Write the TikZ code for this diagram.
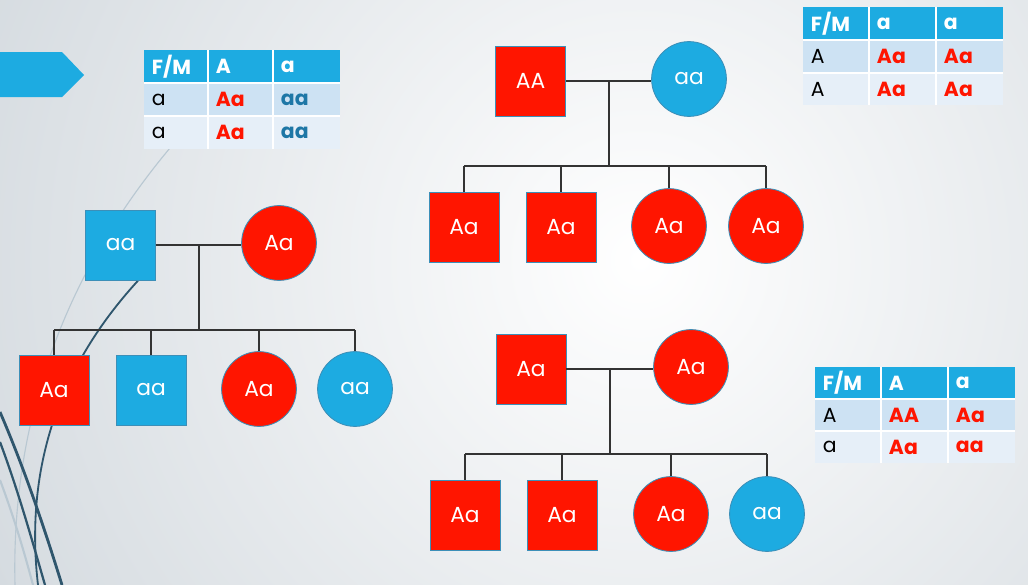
\documentclass[tikz,border=0pt]{standalone}
\usepackage{fontspec}
\setmainfont{Poppins}
\usepackage{xcolor}
\usetikzlibrary{positioning}

\definecolor{pedred}{HTML}{FF1500}
\definecolor{pedblue}{HTML}{1DABE1}
\definecolor{pededge}{HTML}{3C8FB8}
\definecolor{bggray}{HTML}{D5DBE0}
\definecolor{rowone}{HTML}{CDE2F3}
\definecolor{rowtwo}{HTML}{E6EFF8}
\definecolor{aablue}{HTML}{1E77A6}
\definecolor{swirl}{HTML}{2F566D}
\definecolor{swirllight}{HTML}{B9C8D2}

\begin{document}
\begin{tikzpicture}[x=0.025cm, y=-0.025cm,
    male/.style={draw=pededge, line width=0.6pt, minimum size=1.75cm, inner sep=0pt,
        text=white, font=\fontsize{15.5}{17}\selectfont},
    female/.style={male, circle, minimum size=1.87cm},
    link/.style={draw=black!80, line width=1.1pt},
    head/.style={anchor=west, text=white, font=\fontsize{14.5}{17}\selectfont\bfseries},
    cell/.style={anchor=west, font=\fontsize{14.5}{17}\selectfont},
    redcell/.style={cell, text=pedred, font=\fontsize{14.5}{17}\selectfont\bfseries},
    bluecell/.style={cell, text=aablue, font=\fontsize{14.5}{17}\selectfont\bfseries}]
\useasboundingbox (0,0) rectangle (1028,585);
% slide background
\begin{scope}
\clip (0,0) rectangle (1028,585);
\fill[bggray] (0,0) rectangle (1028,585);
\shade[inner color=white, outer color=bggray] (640,260) circle[radius=720];
% swirls
\draw[swirllight, line width=0.8pt] (190,125) .. controls (95,230) and (10,380) .. (15,585);
\draw[swirllight, line width=1.5pt] (0,480) .. controls (15,520) and (25,555) .. (33,585);
\draw[swirl, line width=1.3pt] (148,270) .. controls (90,330) and (20,430) .. (38,585);
\draw[swirl, line width=2pt] (0,412) .. controls (25,470) and (45,530) .. (62,585);
\draw[swirl, line width=1.6pt] (0,442) .. controls (18,490) and (32,540) .. (45,585);
\end{scope}
% arrow tab
\fill[pedblue] (0,52) -- (62,52) -- (84,75) -- (62,97) -- (0,97) -- cycle;

% left family
\node[male, fill=pedblue] (lf) at (120.5,245) {aa};
\node[female, fill=pedred] (lm) at (279,243) {Aa};
\node[male, fill=pedred] (lc1) at (54,390) {Aa};
\node[male, fill=pedblue] (lc2) at (151,390) {aa};
\node[female, fill=pedred] (lc3) at (259,389) {Aa};
\node[female, fill=pedblue] (lc4) at (355,389) {aa};
\coordinate (lj) at (199,245);
\coordinate (ls) at (199,330);
\draw[link] (lf.east) -- (lf.east -| lm.west)
    (lj) -- (ls)
    (lc1 |- ls) -- (lc4 |- ls)
    (lc1 |- ls) -- (lc1.north)
    (lc2 |- ls) -- (lc2.north)
    (lc3 |- ls) -- (lc3.north)
    (lc4 |- ls) -- (lc4.north);

% top right family
\node[male, fill=pedred] (tf) at (530.5,81) {AA};
\node[female, fill=pedblue] (tm) at (689,79) {aa};
\node[male, fill=pedred] (tc1) at (464,227) {Aa};
\node[male, fill=pedred] (tc2) at (561,227) {Aa};
\node[female, fill=pedred] (tc3) at (669,226) {Aa};
\node[female, fill=pedred] (tc4) at (766,226) {Aa};
\coordinate (tj) at (609,81);
\coordinate (ts) at (609,166);
\draw[link] (tf.east) -- (tf.east -| tm.west)
    (tj) -- (ts)
    (tc1 |- ts) -- (tc4 |- ts)
    (tc1 |- ts) -- (tc1.north)
    (tc2 |- ts) -- (tc2.north)
    (tc3 |- ts) -- (tc3.north)
    (tc4 |- ts) -- (tc4.north);

% bottom right family
\node[male, fill=pedred] (bf) at (531,369) {Aa};
\node[female, fill=pedred] (bm) at (691,367) {Aa};
\node[male, fill=pedred] (bc1) at (465,515) {Aa};
\node[male, fill=pedred] (bc2) at (562,515) {Aa};
\node[female, fill=pedred] (bc3) at (671,514) {Aa};
\node[female, fill=pedblue] (bc4) at (767,514) {aa};
\coordinate (bj) at (610,369);
\coordinate (bs) at (610,454);
\draw[link] (bf.east) -- (bf.east -| bm.west)
    (bj) -- (bs)
    (bc1 |- bs) -- (bc4 |- bs)
    (bc1 |- bs) -- (bc1.north)
    (bc2 |- bs) -- (bc2.north)
    (bc3 |- bs) -- (bc3.north)
    (bc4 |- bs) -- (bc4.north);

% punnett square, left
\fill[pedblue] (144,50) rectangle (340,83);
\fill[rowone] (144,83) rectangle (340,116);
\fill[rowtwo] (144,116) rectangle (340,149);
\draw[white, line width=1.4pt] (144,83) -- (340,83) (144,116) -- (340,116)
    (208,50) -- (208,149) (273,50) -- (273,149);
\node[head] (lh0) at (147,66.5) {F/M};
\node[head] (lh1) at (211,66.5) {A};
\node[head] (lh2) at (276,66.5) {a};
\node[cell] (lr10) at (147,99.5) {a};
\node[redcell] (lr11) at (211,99.5) {Aa};
\node[bluecell] (lr12) at (276,99.5) {aa};
\node[cell] (lr20) at (147,132.5) {a};
\node[redcell] (lr21) at (211,132.5) {Aa};
\node[bluecell] (lr22) at (276,132.5) {aa};

% punnett square, top right
\fill[pedblue] (803,7) rectangle (1003,40);
\fill[rowone] (803,40) rectangle (1003,73);
\fill[rowtwo] (803,73) rectangle (1003,105);
\draw[white, line width=1.4pt] (803,40) -- (1003,40) (803,73) -- (1003,73)
    (869,7) -- (869,105) (936,7) -- (936,105);
\node[head] (th0) at (806,23.5) {F/M};
\node[head] (th1) at (872,23.5) {a};
\node[head] (th2) at (939,23.5) {a};
\node[cell] (tr10) at (806,56.5) {A};
\node[redcell] (tr11) at (872,56.5) {Aa};
\node[redcell] (tr12) at (939,56.5) {Aa};
\node[cell] (tr20) at (806,89) {A};
\node[redcell] (tr21) at (872,89) {Aa};
\node[redcell] (tr22) at (939,89) {Aa};

% punnett square, bottom right
\fill[pedblue] (815,367) rectangle (1015,399);
\fill[rowone] (815,399) rectangle (1015,431);
\fill[rowtwo] (815,431) rectangle (1015,463);
\draw[white, line width=1.4pt] (815,399) -- (1015,399) (815,431) -- (1015,431)
    (881,367) -- (881,463) (948,367) -- (948,463);
\node[head] (bh0) at (818,383) {F/M};
\node[head] (bh1) at (884,383) {A};
\node[head] (bh2) at (951,383) {a};
\node[cell] (br10) at (818,415) {A};
\node[redcell] (br11) at (884,415) {AA};
\node[redcell] (br12) at (951,415) {Aa};
\node[cell] (br20) at (818,447) {a};
\node[redcell] (br21) at (884,447) {Aa};
\node[redcell] (br22) at (951,447) {aa};
\end{tikzpicture}
\end{document}
